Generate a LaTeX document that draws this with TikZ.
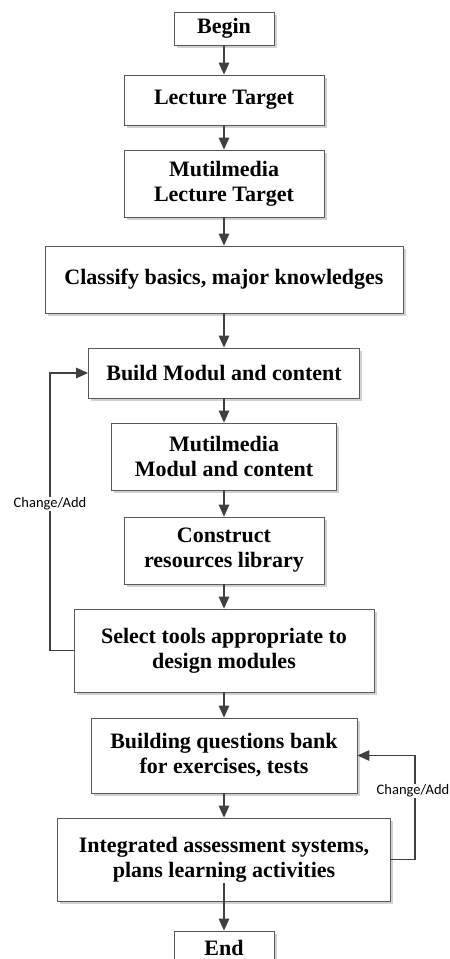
\documentclass[tikz,border=0pt]{standalone}
\usepackage{fontspec}
\setmainfont{Liberation Serif}
\newfontfamily\notefont{Carlito}
\usetikzlibrary{arrows.meta,shadows}

\begin{document}
\begin{tikzpicture}[x=1pt,y=1pt,
  box/.style={draw=black!65,line width=0.8pt,fill=white,align=center,
    font=\fontsize{22}{25}\selectfont\bfseries,inner sep=0pt,
    drop shadow={shadow xshift=2.5pt,shadow yshift=-2.5pt,fill=black!18,opacity=1}},
  arr/.style={draw=black!75,line width=1.4pt,-{Triangle[length=12pt,width=10.5pt]}},
  note/.style={font=\notefont\fontsize{14.5}{16}\selectfont,fill=white,inner sep=1pt}]
\clip (0,0) rectangle (450,-959);
\fill[white] (0,0) rectangle (450,-959);
\node [box,minimum width=100,minimum height=33] (begin) at (224,-28.5) {Begin};
\node [box,minimum width=200,minimum height=50] (lecture) at (224,-100) {Lecture Target};
\node [box,minimum width=200,minimum height=67] (mlecture) at (224,-183.5) {Mutilmedia\\Lecture Target};
\node [box,minimum width=358,minimum height=67] (classify) at (224,-279.5) {Classify basics, major knowledges};
\node [box,minimum width=271,minimum height=50] (build) at (224,-373) {Build Modul and content};
\node [box,minimum width=225,minimum height=67] (mmodul) at (224,-456.5) {Mutilmedia\\Modul and content};
\node [box,minimum width=200,minimum height=67] (construct) at (224,-550.5) {Construct\\resources library};
\node [box,minimum width=300,minimum height=83] (select) at (224,-650.5) {Select tools appropriate to\\design modules};
\node [box,minimum width=266,minimum height=75] (bank) at (224,-755.5) {Building questions bank\\for exercises, tests};
\node [box,minimum width=333,minimum height=83] (integ) at (224,-859.5) {Integrated assessment systems,\\plans learning activities};
\node [box,minimum width=100,minimum height=33] (end) at (224,-947.5) {End};
% main flow
\draw [arr] (begin) -- (lecture);
\draw [arr] (lecture) -- (mlecture);
\draw [arr] (mlecture) -- (classify);
\draw [arr] (classify) -- (build);
\draw [arr] (build) -- (mmodul);
\draw [arr] (mmodul) -- (construct);
\draw [arr] (construct) -- (select);
\draw [arr] (select) -- (bank);
\draw [arr] (bank) -- (integ);
\draw [arr] ([yshift=18pt]integ.south) -- (end);
% feedback loops
\coordinate (leftx) at (50,0);
\coordinate (rightx) at (415,0);
\draw [arr] (select.west) -- (select.west -| leftx) |- (build.west);
\draw [arr] (integ.east) -- (integ.east -| rightx) |- (bank.east);
\node [note] (leftnote) at (50,-504) {Change/Add};
\node [note] (rightnote) at (413,-791) {Change/Add};
\end{tikzpicture}
\end{document}
